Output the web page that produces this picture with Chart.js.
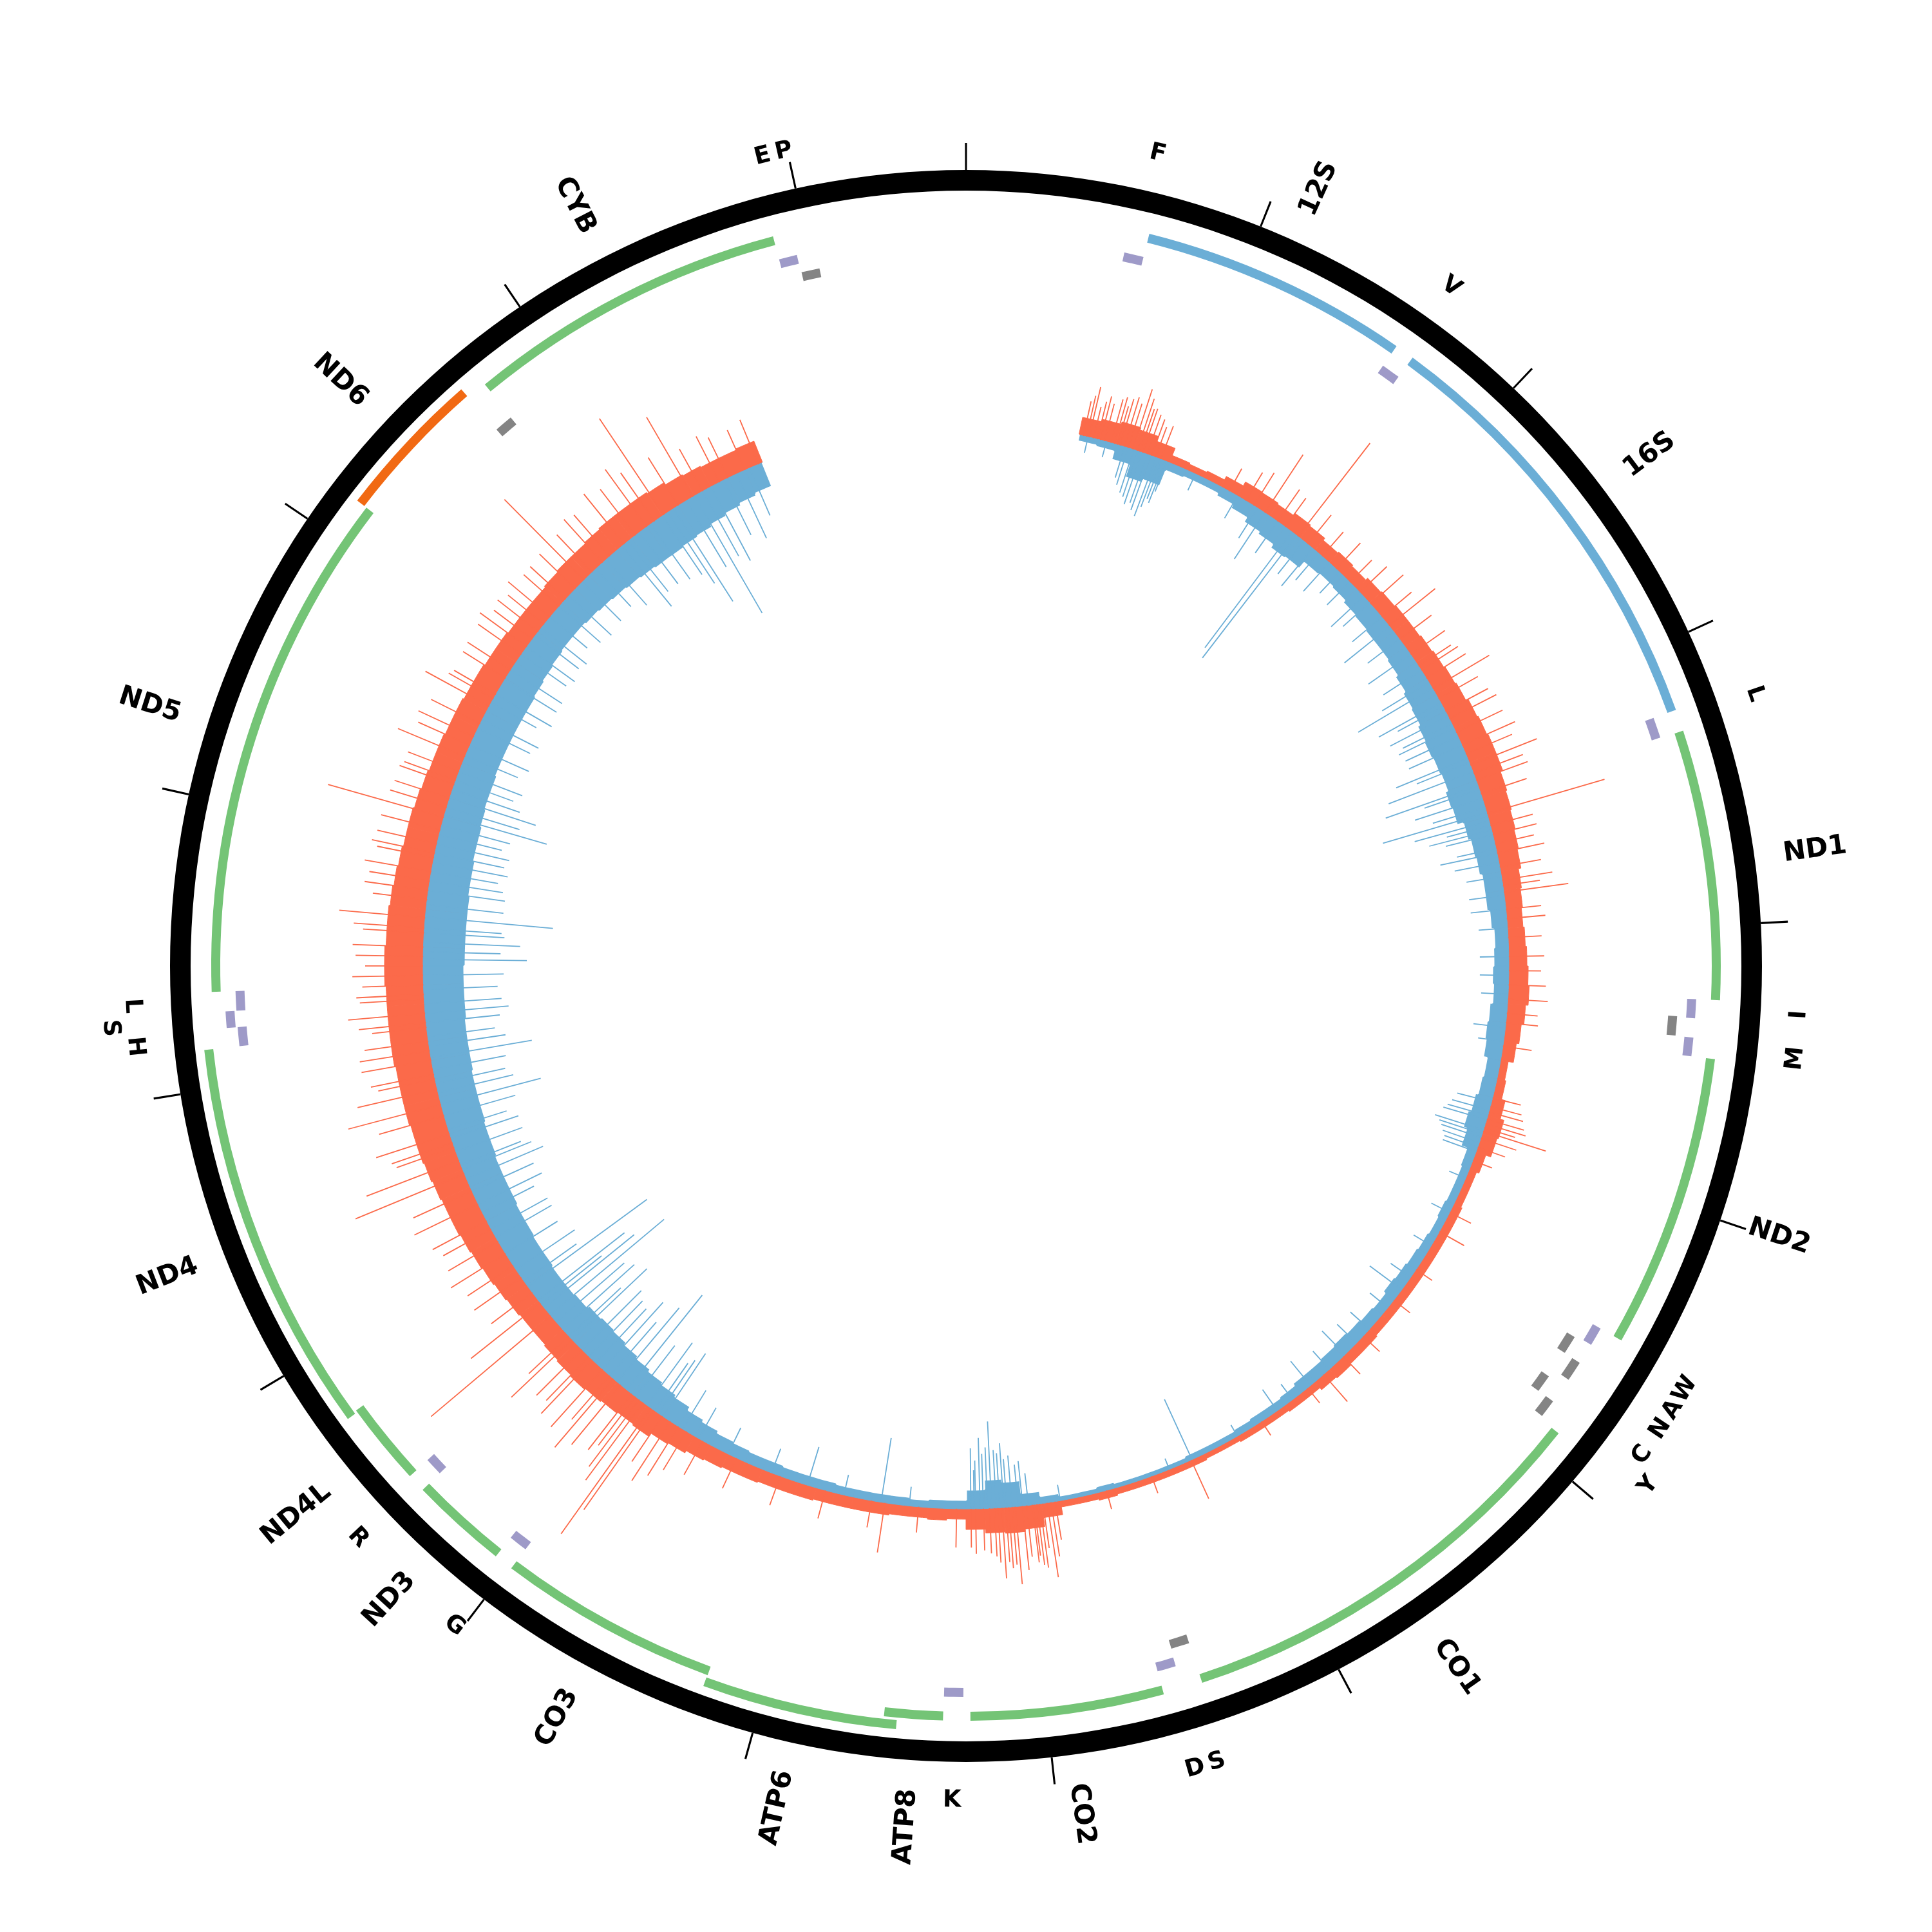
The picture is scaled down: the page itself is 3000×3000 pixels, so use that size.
<!DOCTYPE html>
<html>
<head>
<meta charset="utf-8">
<script src="https://cdn.jsdelivr.net/npm/chart.js@4.4.0/dist/chart.umd.min.js"></script>
<style>
  body { margin: 0; background: #ffffff; }
  #wrap { position: relative; width: 3000px; height: 3000px; }
  #wrap canvas { position: absolute; left: 0; top: 0; }
</style>
</head>
<body>
<div id="wrap">
  <canvas id="mapChart" width="3000" height="3000"></canvas>
  <canvas id="coverChart" width="3000" height="3000"></canvas>
  <canvas id="spikeChart" width="3000" height="3000"></canvas>
</div>
<script>
'use strict';

//--------> Data <--------
const genomeLength = 16569;
const tickPositions = [0, 1000, 2000, 3000, 4000, 5000, 6000, 7000, 8000, 9000, 10000, 11000, 12000, 13000, 14000, 15000, 16000];

// genes (rRNA + protein coding)
const geneNames = ['12S', '16S', 'ND1', 'ND2', 'CO1', 'CO2', 'ATP8', 'ATP6', 'CO3', 'ND3', 'ND4L', 'ND4', 'ND5', 'ND6', 'CYB'];
const geneStarts = [648, 1671, 3307, 4470, 5904, 7586, 8366, 8527, 9207, 10059, 10470, 10760, 12337, 14149, 14747];
const geneEnds = [1601, 3229, 4262, 5511, 7445, 8269, 8572, 9207, 9990, 10404, 10766, 12137, 14148, 14673, 15887];
const geneTypes = ['rRNA', 'rRNA', 'H', 'H', 'H', 'H', 'H', 'H', 'H', 'H', 'H', 'H', 'H', 'L', 'H'];
const geneShifted = [0, 0, 0, 0, 0, 0, 0, 1, 0, 0, 0, 1, 0, 1, 0];

// tRNAs
const trnaLabels = ['F', 'V', 'L', 'I', '', 'M', 'W', 'A', 'N', 'C', 'Y', 'S', 'D', 'K', 'G', 'R', 'H', 'S', 'L', '', 'E', 'P'];
const trnaStarts = [577, 1602, 3230, 4263, 4329, 4402, 5512, 5587, 5657, 5761, 5826, 7446, 7518, 8295, 9991, 10405, 12138, 12207, 12266, 14674, 15888, 15956];
const trnaEnds = [647, 1670, 3304, 4331, 4400, 4469, 5579, 5655, 5729, 5826, 5891, 7514, 7585, 8364, 10058, 10469, 12206, 12265, 12336, 14742, 15953, 16023];
const trnaStrands = ['H', 'H', 'H', 'H', 'L', 'H', 'H', 'L', 'L', 'L', 'L', 'L', 'H', 'H', 'H', 'H', 'H', 'H', 'H', 'L', 'H', 'L'];
const trnaLevels = [1, 1, 1, 1, 0, 1, 1, 0, 1, 0, 1, 0, 1, 1, 1, 1, 1, 2, 1, 0, 1, 0];
const trnaLabelLift = [0, 0, 0, 0, 0, 0, 0, 0, 0, 0, 1, 0, 0, 0, 0, 0, 0, 1, 0, 0, 0, 0];

// coverage, one value per 2 degree bin starting at the top (forward = outward, reverse = inward)
const forwardCoverage = [
  0, 0, 0, 0, 0, 0, 28, 32, 36, 32,
  24, 12, 10, 12, 18, 25, 24, 22, 26, 24,
  20, 22, 20, 24, 26, 28, 28, 30, 32, 34,
  36, 40, 42, 44, 44, 40, 38, 36, 34, 32,
  28, 26, 24, 26, 28, 30, 32, 28, 24, 20,
  12, 14, 20, 26, 24, 16, 12, 12, 14, 14,
  14, 14, 14, 14, 14, 14, 16, 16, 18, 16,
  12, 12, 10, 10, 10, 8, 8, 10, 10, 10,
  10, 10, 12, 10, 10, 22, 36, 40, 38, 32,
  16, 18, 16, 16, 18, 18, 18, 18, 20, 20,
  20, 22, 22, 24, 26, 30, 32, 38, 36, 38,
  40, 42, 40, 38, 36, 36, 38, 40, 42, 44,
  46, 48, 48, 50, 52, 54, 54, 56, 56, 56,
  58, 58, 58, 58, 60, 60, 58, 58, 56, 54,
  52, 50, 50, 48, 46, 44, 44, 42, 42, 40,
  40, 38, 38, 36, 36, 36, 38, 40, 40, 42,
  44, 44, 44, 42, 38, 36, 34, 34, 36, 0,
  0, 0, 0, 0, 0, 0, 0, 0, 0, 0
];
const reverseCoverage = [
  0, 0, 0, 0, 0, 0, 10, 12, 25, 45,
  40, 14, 12, 12, 16, 22, 30, 34, 40, 38,
  26, 24, 26, 30, 32, 34, 34, 36, 40, 44,
  46, 50, 52, 50, 48, 52, 50, 40, 36, 34,
  30, 30, 26, 22, 24, 26, 24, 28, 30, 28,
  22, 24, 28, 32, 26, 16, 14, 14, 16, 14,
  16, 18, 20, 22, 18, 20, 22, 24, 22, 20,
  20, 16, 14, 14, 12, 10, 10, 10, 8, 8,
  8, 8, 10, 8, 8, 12, 20, 40, 45, 30,
  14, 14, 12, 14, 14, 14, 14, 16, 16, 16,
  18, 18, 20, 22, 26, 30, 36, 40, 44, 48,
  52, 56, 58, 56, 52, 50, 50, 52, 52, 54,
  54, 56, 56, 56, 58, 58, 60, 60, 60, 62,
  62, 62, 64, 64, 64, 66, 66, 66, 66, 64,
  64, 62, 62, 60, 58, 58, 56, 56, 56, 56,
  56, 54, 52, 50, 48, 48, 50, 52, 54, 56,
  58, 60, 60, 58, 56, 52, 48, 44, 40, 0,
  0, 0, 0, 0, 0, 0, 0, 0, 0, 0
];

// single tall positions [bp, height]
const forwardSpikes = [
  [575, 55], [590, 65], [603, 80], [625, 50], [644, 60], [660, 70], [680, 60], [713, 70],
  [730, 75], [745, 62], [759, 75], [780, 80], [800, 72], [824, 98], [845, 85], [860, 70],
  [874, 72], [897, 65], [920, 60], [940, 50], [967, 55],
  [1335, 40], [1427, 51], [1473, 60], [1537, 108], [1611, 60], [1657, 55], [1735, 183], [1795, 58],
  [1887, 50], [1979, 55], [2071, 48], [2140, 58], [2218, 68], [2301, 60], [2356, 92], [2439, 62],
  [2531, 65], [2600, 60], [2623, 68], [2669, 72], [2729, 102], [2785, 70], [2854, 75], [2895, 82],
  [2969, 80], [3038, 90], [3084, 78], [3143, 111], [3185, 82], [3222, 85], [3291, 75], [3392, 190],
  [3452, 68], [3498, 70], [3544, 62], [3590, 75], [3659, 65], [3723, 79], [3751, 58], [3783, 101],
  [3866, 55], [3912, 60], [4004, 52], [4096, 55], [4165, 50], [4234, 58], [4303, 62], [4372, 48],
  [4418, 50], [4533, 45], [4790, 45], [4833, 50], [4860, 55], [4897, 60], [4920, 65], [4940, 50],
  [4957, 102], [4994, 58], [5040, 45], [5109, 32], [5385, 37],
  [5491, 44], [5707, 30], [5891, 32], [6121, 35], [6259, 38], [6388, 56], [6490, 30], [6766, 26],
  [7157, 66], [7364, 28], [7594, 30], [7850, 60], [7870, 85], [7889, 117], [7910, 70], [7925, 100],
  [7940, 95], [7953, 80], [7962, 90], [7990, 80], [8010, 100], [8045, 121], [8060, 90],
  [8077, 95], [8091, 85], [8110, 110], [8130, 85], [8146, 75], [8170, 70], [8200, 65], [8238, 70],
  [8260, 60], [8330, 60], [8515, 40], [8680, 78],
  [8745, 42], [8975, 45], [9205, 48], [9435, 52], [9619, 60], [9711, 70], [9757, 90], [9803, 110],
  [9849, 85], [9900, 189], [9918, 240], [9964, 150], [9987, 130], [10010, 95], [10033, 110],
  [10102, 120], [10149, 140], [10172, 90], [10218, 120], [10287, 115], [10310, 95], [10356, 100],
  [10425, 130], [10448, 85], [10581, 243], [10659, 138], [10724, 80], [10816, 89], [10885, 85],
  [10954, 100], [11023, 90], [11092, 85], [11138, 95], [11230, 110], [11299, 100], [11391, 183],
  [11460, 154], [11529, 95], [11552, 100], [11598, 120], [11690, 105], [11746, 149], [11824, 127],
  [11874, 90], [11897, 100], [11967, 110], [12013, 110], [12059, 100], [12128, 85], [12151, 105],
  [12197, 120], [12266, 100], [12289, 105], [12335, 95], [12381, 110], [12427, 90], [12473, 105],
  [12519, 110], [12588, 95], [12611, 110], [12661, 134], [12749, 85], [12795, 100], [12841, 95],
  [12887, 105], [12956, 90], [12979, 100], [13025, 95], [13094, 95], [13158, 187], [13209, 92],
  [13255, 90], [13324, 90], [13347, 85], [13393, 85], [13471, 113], [13531, 88], [13577, 95],
  [13646, 85], [13743, 113], [13785, 80], [13808, 75], [13900, 78], [13946, 80], [14038, 82],
  [14084, 90], [14130, 75], [14176, 80], [14222, 72], [14268, 85], [14337, 74], [14383, 75],
  [14452, 78], [14512, 176], [14567, 80], [14636, 90], [14682, 85], [14774, 100], [14843, 90],
  [14912, 110], [14958, 92], [15013, 180], [15096, 88], [15179, 143], [15234, 75], [15326, 80],
  [15372, 70], [15464, 68], [15534, 75]
];
const reverseSpikes = [
  [598, 25], [690, 25], [782, 50], [800, 60], [828, 70], [850, 75], [870, 85], [897, 80],
  [915, 90], [944, 97], [960, 80], [975, 65], [990, 70], [1000, 50], [1151, 28],
  [1381, 40], [1496, 55], [1537, 86], [1611, 60], [1698, 225], [1726, 240], [1772, 65], [1827, 76],
  [1864, 55], [1933, 60], [2002, 45], [2071, 50], [2168, 69], [2209, 55], [2301, 60], [2361, 90],
  [2439, 62], [2531, 80], [2623, 70], [2692, 85], [2725, 134], [2807, 110], [2830, 80], [2881, 101],
  [2923, 85], [2946, 95], [2992, 90], [3038, 90], [3107, 120], [3130, 88], [3176, 140], [3249, 152],
  [3268, 90], [3314, 110], [3360, 85], [3387, 168], [3429, 120], [3452, 70], [3475, 100], [3498, 75],
  [3567, 62], [3590, 90], [3636, 70], [3705, 55], [3797, 55], [3866, 55], [3958, 45], [4096, 45],
  [4188, 45], [4280, 42], [4441, 50], [4510, 40], [4810, 55], [4850, 60], [4879, 65], [4900, 70],
  [4952, 79], [4971, 70], [4990, 65], [5017, 60], [5040, 55], [5063, 55], [5201, 28], [5385, 32],
  [5569, 32], [5753, 38], [5827, 62], [5937, 36],
  [6075, 40], [6167, 42], [6246, 51], [6351, 38], [6471, 49], [6582, 30], [6674, 40], [6904, 20],
  [7152, 103], [7272, 18], [7824, 25], [7980, 50], [8008, 70], [8030, 65], [8060, 80], [8085, 75],
  [8100, 100], [8120, 85], [8137, 90], [8160, 135], [8180, 95], [8200, 85], [8216, 110],
  [8238, 75], [8245, 60], [8261, 94], [8561, 30], [8699, 101], [8883, 32], [9067, 62], [9251, 40], [9481, 45],
  [9642, 55], [9734, 70], [9845, 118], [9872, 100], [9895, 90], [9941, 120], [10010, 100],
  [10066, 188], [10125, 150], [10172, 110], [10218, 140], [10264, 115], [10310, 120], [10356, 130],
  [10425, 160], [10448, 110], [10494, 150], [10540, 140], [10586, 231], [10632, 180], [10655, 120],
  [10678, 170], [10761, 229], [10793, 100], [10862, 110], [10954, 95], [11046, 100], [11092, 100],
  [11184, 90], [11230, 110], [11299, 105], [11364, 129], [11414, 115], [11437, 100], [11506, 110],
  [11575, 110], [11621, 95], [11690, 115], [11746, 160], [11805, 120], [11851, 110], [11920, 115],
  [11980, 159], [12036, 120], [12082, 105], [12151, 115], [12197, 130], [12243, 120], [12312, 115],
  [12381, 125], [12459, 161], [12496, 120], [12542, 150], [12588, 125], [12611, 120], [12666, 199],
  [12726, 120], [12795, 120], [12841, 115], [12887, 105], [12933, 118], [12979, 110], [13025, 115],
  [13071, 100], [13117, 110], [13172, 165], [13209, 118], [13260, 140], [13301, 110], [13347, 95],
  [13393, 105], [13476, 88], [13531, 100], [13623, 90], [13669, 98], [13762, 80], [13808, 100],
  [13890, 95], [13946, 95], [14038, 85], [14084, 92], [14153, 85], [14199, 90], [14268, 75],
  [14337, 85], [14406, 90], [14498, 85], [14590, 80], [14659, 95], [14760, 121], [14797, 100],
  [14866, 100], [14935, 105], [15004, 110], [15036, 132], [15069, 171], [15142, 120], [15188, 210],
  [15234, 115], [15280, 130], [15349, 95], [15418, 110], [15487, 80]
];

//--------> Styles and radii <--------
const clear = 'rgba(0,0,0,0)';
const geneColors = { rRNA: '#6baed6', H: '#74c476', L: '#f16913' };
const trnaColors = { H: '#9e9ac8', L: '#848484' };
const forwardColor = '#fb6a4a';
const reverseColor = '#6baed6';
const binDegrees = 2;
const coverBase = 843;      // radius of the coverage baseline
const tickWidthBp = 6.5;
const geneLabelRadius = 1281;
const trnaLabelRadius = 1296;
const trnaLabelStep = 36;
const labelFont = 'bold 42px "DejaVu Sans"';
const trnaFont = 'bold 37px "DejaVu Sans"';

//--------> Ring building <--------
function buildRing (items) {
  items.sort((a, b) => a.start - b.start);
  let data = []; let colors = [];
  let pos = 0;
  for (let i = 0; i < items.length; i++) {
    let s = Math.max(items[i].start, pos);
    if (s > pos) { data.push(s - pos); colors.push(clear); }
    if (items[i].end > s) { data.push(items[i].end - s); colors.push(items[i].color); }
    pos = Math.max(pos, items[i].end);
  }
  if (pos < genomeLength) { data.push(genomeLength - pos); colors.push(clear); }
  return { data: data, backgroundColor: colors };
}

function ringDataset (ring, weight) {
  return { data: ring.data, backgroundColor: ring.backgroundColor, weight: weight, borderWidth: 0, hoverOffset: 0, offset: 0 };
}

function emptyRing (weight) {
  return ringDataset({ data: [genomeLength], backgroundColor: [clear] }, weight);
}

let tickItems = [];
for (let i = 0; i < tickPositions.length; i++) {
  let s = tickPositions[i] - tickWidthBp / 2;
  let e = tickPositions[i] + tickWidthBp / 2;
  if (s < 0) {
    tickItems.push({ start: 0, end: e, color: '#000' });
    tickItems.push({ start: genomeLength + s, end: genomeLength, color: '#000' });
  } else {
    tickItems.push({ start: s, end: e, color: '#000' });
  }
}

let geneNormal = []; let geneOuter = [];
for (let i = 0; i < geneNames.length; i++) {
  let item = { start: geneStarts[i] - 1, end: geneEnds[i], color: geneColors[geneTypes[i]] };
  if (geneShifted[i]) geneOuter.push(item); else geneNormal.push(item);
}

let trnaRings = [[], [], []];
for (let i = 0; i < trnaStarts.length; i++) {
  trnaRings[trnaLevels[i]].push({ start: trnaStarts[i] - 1, end: trnaEnds[i], color: trnaColors[trnaStrands[i]] });
}

// outermost first, weights are pixel thicknesses
const mapDatasets = [
  ringDataset(buildRing(tickItems), 42),
  ringDataset({ data: [genomeLength], backgroundColor: ['#000'] }, 32),
  emptyRing(14),
  ringDataset(buildRing(geneOuter), 14),
  emptyRing(4),
  ringDataset(buildRing(geneNormal), 14),
  emptyRing(6),
  ringDataset(buildRing(trnaRings[2]), 14),
  emptyRing(3),
  ringDataset(buildRing(trnaRings[1]), 14),
  emptyRing(14),
  ringDataset(buildRing(trnaRings[0]), 14)
];

//--------> Labels plugin <--------
const featureLabels = {
  id: 'featureLabels',
  afterDraw (chart) {
    const ctx = chart.ctx;
    const cx = (chart.chartArea.left + chart.chartArea.right) / 2;
    const cy = (chart.chartArea.top + chart.chartArea.bottom) / 2;
    ctx.save();
    ctx.fillStyle = '#000';
    ctx.textBaseline = 'middle';

    // gene names read along the radius
    ctx.font = labelFont;
    for (let i = 0; i < geneNames.length; i++) {
      let a = ((geneStarts[i] - 1 + geneEnds[i]) / 2) / genomeLength * 2 * Math.PI;
      ctx.save();
      ctx.translate(cx + geneLabelRadius * Math.sin(a), cy - geneLabelRadius * Math.cos(a));
      if (a <= Math.PI) { ctx.rotate(a - Math.PI / 2); ctx.textAlign = 'left'; }
      else { ctx.rotate(a - 3 * Math.PI / 2); ctx.textAlign = 'right'; }
      ctx.fillText(geneNames[i], 0, 0);
      ctx.restore();
    }

    // tRNA letters follow the circle
    ctx.font = trnaFont;
    ctx.textAlign = 'center';
    for (let i = 0; i < trnaLabels.length; i++) {
      if (!trnaLabels[i]) continue;
      let a = ((trnaStarts[i] - 1 + trnaEnds[i]) / 2) / genomeLength * 2 * Math.PI;
      let r = trnaLabelRadius + trnaLabelLift[i] * trnaLabelStep;
      ctx.save();
      ctx.translate(cx + r * Math.sin(a), cy - r * Math.cos(a));
      if (a > Math.PI / 2 && a < 3 * Math.PI / 2) ctx.rotate(a - Math.PI); else ctx.rotate(a);
      ctx.fillText(trnaLabels[i], 0, 0);
      ctx.restore();
    }
    ctx.restore();
  }
};

//--------> Genome map (doughnut rings) <--------
new Chart(document.getElementById('mapChart'), {
  type: 'doughnut',
  data: { datasets: mapDatasets },
  options: {
    responsive: false,
    animation: false,
    cutout: 1093,
    rotation: 0,
    layout: { padding: 222 },
    plugins: { legend: { display: false }, tooltip: { enabled: false } },
    events: []
  },
  plugins: [featureLabels]
});

//--------> Coverage body (polar area) <--------
let binLabels = []; let outerValues = []; let baseValues = []; let innerValues = [];
for (let i = 0; i < forwardCoverage.length; i++) {
  let covered = forwardCoverage[i] > 0 || reverseCoverage[i] > 0;
  binLabels.push(i * binDegrees);
  outerValues.push(covered ? coverBase + forwardCoverage[i] : 0);
  baseValues.push(covered ? coverBase : 0);
  // the white disc also fills the uncovered bins so no seams show there
  innerValues.push(covered ? coverBase - reverseCoverage[i] : coverBase);
}

function edgeWidth (c) { return c.raw > 0 ? 1 : 0; }

new Chart(document.getElementById('coverChart'), {
  type: 'polarArea',
  data: {
    labels: binLabels,
    datasets: [
      { data: innerValues, backgroundColor: '#ffffff', borderColor: '#ffffff', borderWidth: 3 },
      { data: baseValues, backgroundColor: reverseColor, borderColor: reverseColor, borderWidth: edgeWidth },
      { data: outerValues, backgroundColor: forwardColor, borderColor: forwardColor, borderWidth: edgeWidth }
    ]
  },
  options: {
    responsive: false,
    animation: false,
    layout: { padding: 0 },
    scales: { r: { display: false, min: 0, max: 1500, startAngle: 0 } },
    plugins: { legend: { display: false }, tooltip: { enabled: false } },
    events: []
  }
});

//--------> Coverage spikes (radial strokes) <--------
function spikePoints (list, dir) {
  let pts = [];
  for (let i = 0; i < list.length; i++) {
    let a = list[i][0] / genomeLength * 2 * Math.PI;
    let r = coverBase + dir * list[i][1];
    pts.push({ x: coverBase * Math.sin(a), y: coverBase * Math.cos(a) });
    pts.push({ x: r * Math.sin(a), y: r * Math.cos(a) });
    pts.push({ x: null, y: null });
  }
  return pts;
}

new Chart(document.getElementById('spikeChart'), {
  type: 'line',
  data: {
    datasets: [
      { data: spikePoints(forwardSpikes, 1), borderColor: forwardColor, borderWidth: 1.8, pointRadius: 0, spanGaps: false, fill: false },
      { data: spikePoints(reverseSpikes, -1), borderColor: reverseColor, borderWidth: 1.8, pointRadius: 0, spanGaps: false, fill: false }
    ]
  },
  options: {
    responsive: false,
    animation: false,
    layout: { padding: 0 },
    scales: {
      x: { type: 'linear', min: -1500, max: 1500, display: false },
      y: { type: 'linear', min: -1500, max: 1500, display: false }
    },
    plugins: { legend: { display: false }, tooltip: { enabled: false } },
    events: []
  }
});
</script>
</body>
</html>
